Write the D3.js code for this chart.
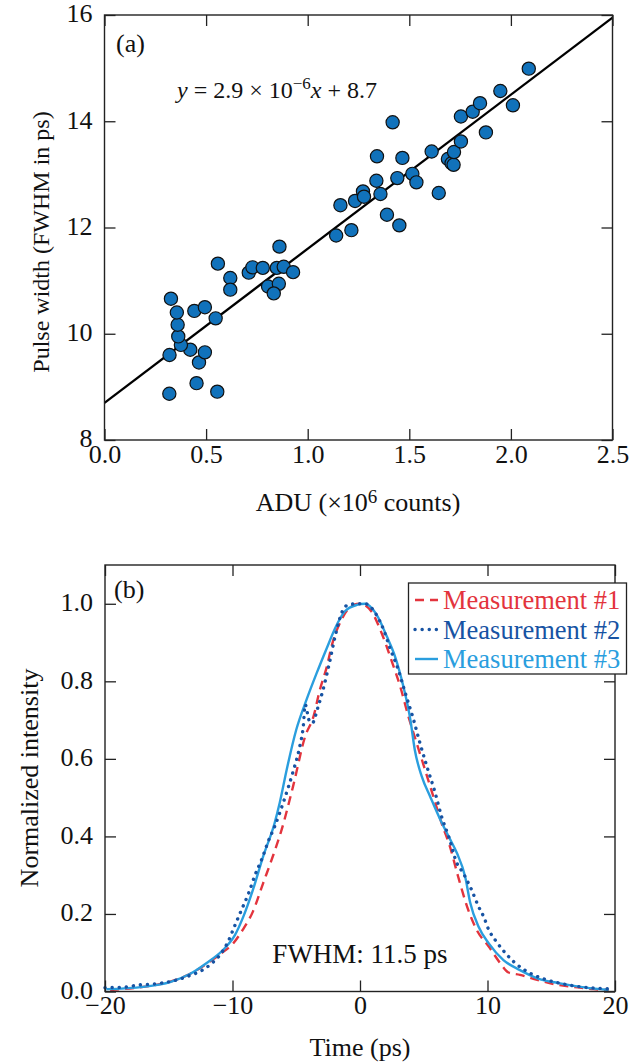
<!DOCTYPE html>
<html>
<head>
<meta charset="utf-8">
<title>Pulse width vs ADU</title>
<script src="https://d3js.org/d3.v7.min.js"></script>
<style>
  body { margin: 0; background: #fff; }
  svg text { font-family: "Liberation Serif", "Times New Roman", serif; fill: #111; }
  .tick text { font-size: 26px; }
  .tick line { stroke: #222; stroke-width: 1.3; }
</style>
</head>
<body>
<div id="chart"></div>
<script>
// panel (a): ADU (x10^6 counts) vs pulse width (ps)
const adu = [0.319, 0.453, 0.555, 0.32, 0.465, 0.494, 0.422, 0.376, 0.363, 0.36, 0.356, 0.327,
  0.442, 0.494, 0.547, 0.558, 0.619, 0.619, 0.71, 0.728, 0.779, 0.848, 0.882, 0.928, 0.861,
  0.805, 0.858, 0.833, 1.14, 1.215, 1.161, 1.233, 1.272, 1.277, 1.358, 1.39, 1.451, 1.338,
  1.441, 1.515, 1.535, 1.645, 1.418, 1.341, 1.466, 1.61, 1.69, 1.708, 1.718, 1.72, 1.754,
  1.754, 1.812, 1.848, 1.877, 2.01, 1.948, 2.088];
const width_ps = [8.87, 9.07, 8.91, 9.6, 9.46, 9.65, 9.70, 9.79, 9.95, 10.17, 10.40, 10.66,
  10.43, 10.50, 10.29, 11.32, 11.05, 10.83, 11.15, 11.25, 11.24, 11.24, 11.26, 11.16, 11.64,
  10.89, 10.94, 10.76, 11.85, 11.95, 12.42, 12.50, 12.68, 12.58, 12.63, 12.24, 12.04, 12.88,
  12.93, 13.01, 12.85, 12.65, 13.98, 13.34, 13.31, 13.43, 13.29, 13.21, 13.18, 13.42, 13.62,
  14.09, 14.18, 14.34, 13.79, 14.30, 14.57, 14.99];
const fitSlope = 2.9, fitIntercept = 8.7;   // y = 2.9e-6 x + 8.7
const aduTicks = [0, 0.5, 1.0, 1.5, 2.0, 2.5];
const widthTicks = [8, 10, 12, 14, 16];

// panel (b): normalized intensity vs time (ps)
const t1 = [-19.6, -17.5, -15.7, -14.1, -12.8, -11.8, -10.7, -9.95, -9.2, -8.4, -7.6, -6.8, -6.15,
  -5.25, -4.3, -3.65, -3.15, -2.6, -2.2, -1.45, -0.5, 0, 0.9, 1.7, 2.5, 3.15, 3.8, 4.45, 5.1,
  5.75, 6.4, 7.05, 7.7, 8.4, 9.15, 10.1, 11.0, 11.65, 12.55, 13.9, 15.2, 16.75, 18.3, 19.5];
const v1 = [0.004, 0.010, 0.019, 0.034, 0.055, 0.077, 0.103, 0.124, 0.159, 0.206, 0.279, 0.352,
  0.417, 0.529, 0.658, 0.709, 0.778, 0.838, 0.894, 0.959, 0.997, 1.0, 0.980, 0.924, 0.851,
  0.787, 0.709, 0.640, 0.572, 0.503, 0.434, 0.374, 0.296, 0.219, 0.159, 0.116, 0.073, 0.049,
  0.043, 0.030, 0.019, 0.012, 0.006, 0.004];
const t2 = [-20, -18.6, -17.3, -15.7, -13.6, -11.8, -10.75, -10.4, -9.87, -9.3, -8.72, -8.25,
  -7.67, -7.2, -6.7, -5.9, -5.25, -4.7, -4.45, -4.3, -4.0, -3.75, -3.3, -2.9, -2.4, -1.95,
  -1.35, -0.95, -0.25, 0.4, 1.2, 1.85, 2.35, 3.0, 3.55, 4.2, 4.7, 5.25, 5.9, 6.4, 6.95, 7.6,
  8.1, 8.75, 9.3, 9.7, 10.1, 10.6, 11.1, 12.05, 13.35, 14.65, 16.0, 17.3, 18.85, 19.5];
const v2 = [0.010, 0.011, 0.017, 0.021, 0.038, 0.068, 0.105, 0.125, 0.166, 0.21, 0.255, 0.299,
  0.344, 0.387, 0.425, 0.499, 0.567, 0.636, 0.683, 0.74, 0.70, 0.692, 0.733, 0.778, 0.847,
  0.916, 0.983, 0.997, 1.0, 1.0, 0.976, 0.933, 0.886, 0.830, 0.770, 0.701, 0.641, 0.580,
  0.512, 0.451, 0.40, 0.331, 0.305, 0.262, 0.219, 0.193, 0.159, 0.133, 0.111, 0.077, 0.047,
  0.030, 0.019, 0.012, 0.008, 0.007];
const t3 = [-19.9, -17.0, -14.9, -13.35, -12.05, -10.75, -9.8, -9.15, -8.4, -7.6, -6.7, -6.3,
  -5.75, -5.0, -4.2, -3.4, -2.6, -1.95, -1.2, -0.25, 0.4, 1.3, 2.1, 2.75, 3.4, 3.95, 4.3,
  4.85, 5.5, 6.3, 6.95, 7.6, 8.25, 8.65, 9.3, 10.1, 11.25, 12.55, 13.9, 15.7, 17.3, 18.85, 19.5];
const v3 = [0.006, 0.012, 0.024, 0.045, 0.073, 0.107, 0.146, 0.193, 0.262, 0.348, 0.434, 0.486,
  0.572, 0.675, 0.752, 0.821, 0.886, 0.937, 0.980, 0.997, 1.0, 0.972, 0.916, 0.864, 0.787,
  0.701, 0.623, 0.554, 0.503, 0.443, 0.40, 0.357, 0.296, 0.228, 0.167, 0.124, 0.081, 0.055,
  0.034, 0.021, 0.012, 0.006, 0.004];
const seriesNames = ["Measurement #1", "Measurement #2", "Measurement #3"];
const seriesColors = ["#e3343d", "#1753a3", "#2a9ede"];
const timeTicks = [-20, -10, 0, 10, 20];
const intensityTicks = [0, 0.2, 0.4, 0.6, 0.8, 1.0];

const W = 631, H = 1064;
const FS = 26;
const svg = d3.select("#chart").append("svg").attr("width", W).attr("height", H);

function frame(g, x0, y0, x1, y1) {
  g.append("rect").attr("x", x0).attr("y", y0).attr("width", x1 - x0).attr("height", y1 - y0)
    .attr("fill", "none").attr("stroke", "#222").attr("stroke-width", 1.4);
}
function cleanAxis(sel) {
  sel.attr("font-family", null).attr("font-size", null);
  sel.select(".domain").remove();
}
// vertical-axis labels sit a touch above their tick, as in the original
function liftLabels(sel) { sel.selectAll(".tick text").attr("dy", "0.26em"); }

// ---------- panel (a) ----------
const ga = svg.append("g");
const xa = d3.scaleLinear().domain([0, 2.5]).range([104.5, 612.5]);
const ya = d3.scaleLinear().domain([8, 16]).range([440, 15]);

ga.append("g").attr("transform", "translate(0,440)")
  .call(d3.axisBottom(xa).tickValues(aduTicks).tickFormat(d3.format(".1f")).tickSize(-11).tickPadding(5))
  .call(cleanAxis);
ga.append("g").attr("transform", "translate(0,15)")
  .call(d3.axisTop(xa).tickValues(aduTicks).tickFormat("").tickSize(-11)).call(cleanAxis);
ga.append("g").attr("transform", "translate(104.5,0)")
  .call(d3.axisLeft(ya).tickValues(widthTicks).tickFormat(d3.format("d")).tickSize(-11).tickPadding(12))
  .call(cleanAxis).call(liftLabels);
ga.append("g").attr("transform", "translate(612.5,0)")
  .call(d3.axisRight(ya).tickValues(widthTicks).tickFormat("").tickSize(-11)).call(cleanAxis);

ga.append("line")
  .attr("x1", xa(0)).attr("y1", ya(fitIntercept))
  .attr("x2", xa(2.5)).attr("y2", ya(fitIntercept + fitSlope * 2.5))
  .attr("stroke", "#000").attr("stroke-width", 2.3);

ga.append("g").selectAll("circle")
  .data(adu.map((d, i) => [d, width_ps[i]]))
  .enter().append("circle")
  .attr("cx", d => xa(d[0])).attr("cy", d => ya(d[1])).attr("r", 6.6)
  .attr("fill", "#1172bb").attr("stroke", "#111").attr("stroke-width", 1.2);

frame(ga, 104.5, 15, 612.5, 440);

ga.append("text").attr("x", 116).attr("y", 52).attr("font-size", FS).text("(a)");
const eq = ga.append("text").attr("x", 177).attr("y", 98).attr("font-size", 24);
eq.append("tspan").attr("font-style", "italic").text("y");
eq.append("tspan").text(" = 2.9 × 10");
eq.append("tspan").attr("font-size", 17).attr("dy", -9).text("−6");
eq.append("tspan").attr("font-style", "italic").attr("dy", 9).text("x");
eq.append("tspan").text(" + 8.7");

ga.append("text").attr("transform", "translate(49,242) rotate(-90)")
  .attr("text-anchor", "middle").attr("font-size", 24).text("Pulse width (FWHM in ps)");
const xl = ga.append("text").attr("x", 358).attr("y", 511).attr("text-anchor", "middle").attr("font-size", FS);
xl.append("tspan").text("ADU (×10");
xl.append("tspan").attr("font-size", 19).attr("dy", -8).text("6");
xl.append("tspan").attr("dy", 8).text(" counts)");

// ---------- panel (b) ----------
const gb = svg.append("g");
const xb = d3.scaleLinear().domain([-20, 20]).range([105, 615]);
const yb = d3.scaleLinear().domain([0, 1.1]).range([991.5, 565]);

gb.append("g").attr("transform", "translate(0,991.5)")
  .call(d3.axisBottom(xb).tickValues(timeTicks).tickSize(-11).tickPadding(4)).call(cleanAxis);
gb.append("g").attr("transform", "translate(0,565)")
  .call(d3.axisTop(xb).tickValues(timeTicks).tickFormat("").tickSize(-11)).call(cleanAxis);
gb.append("g").attr("transform", "translate(105,0)")
  .call(d3.axisLeft(yb).tickValues(intensityTicks).tickFormat(d3.format(".1f")).tickSize(-11).tickPadding(12))
  .call(cleanAxis).call(liftLabels);
gb.append("g").attr("transform", "translate(615,0)")
  .call(d3.axisRight(yb).tickValues(intensityTicks).tickFormat("").tickSize(-11)).call(cleanAxis);

const line = d3.line().x(d => xb(d[0])).y(d => yb(d[1])).curve(d3.curveMonotoneX);
const series = [[t1, v1], [t2, v2], [t3, v3]].map(([t, v]) => t.map((d, i) => [d, v[i]]));
const dashes = ["9,6", "0.1,7", null];
const widths = [2.4, 3.4, 2.4];
const order = [0, 2, 1];
order.forEach(i => {
  gb.append("path").datum(series[i]).attr("d", line)
    .attr("fill", "none").attr("stroke", seriesColors[i]).attr("stroke-width", widths[i])
    .attr("stroke-dasharray", dashes[i]).attr("stroke-linecap", i === 1 ? "round" : "butt");
});

frame(gb, 105, 565, 615, 991.5);

gb.append("text").attr("x", 114).attr("y", 598).attr("font-size", FS).text("(b)");
gb.append("text").attr("x", 360).attr("y", 963).attr("text-anchor", "middle").attr("font-size", 27)
  .text("FWHM: 11.5 ps");

// legend
const lg = gb.append("g");
lg.append("rect").attr("x", 408.5).attr("y", 583).attr("width", 218).attr("height", 91)
  .attr("fill", "#fff").attr("stroke", "#222").attr("stroke-width", 1.3);
seriesNames.forEach((name, i) => {
  const yy = 600 + i * 29.5;
  lg.append("line").attr("x1", 415).attr("x2", 438).attr("y1", yy).attr("y2", yy)
    .attr("stroke", seriesColors[i]).attr("stroke-width", widths[i])
    .attr("stroke-dasharray", dashes[i]).attr("stroke-linecap", i === 1 ? "round" : "butt");
  lg.append("text").attr("x", 443).attr("y", yy + 9).attr("font-size", 26.5)
    .style("fill", seriesColors[i]).text(name);
});

gb.append("text").attr("transform", "translate(38,778) rotate(-90)")
  .attr("text-anchor", "middle").attr("font-size", FS).text("Normalized intensity");
gb.append("text").attr("x", 360).attr("y", 1056).attr("text-anchor", "middle").attr("font-size", FS)
  .text("Time (ps)");
</script>
</body>
</html>
